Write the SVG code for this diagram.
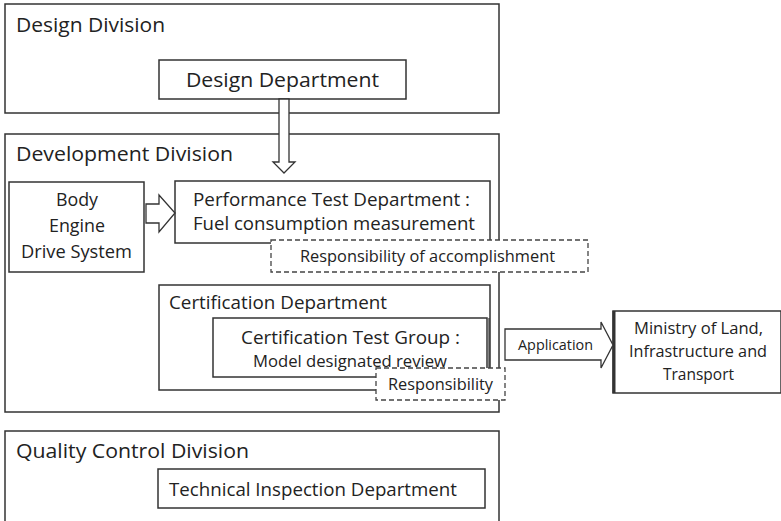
<svg xmlns="http://www.w3.org/2000/svg" width="781" height="521" viewBox="0 0 781 521">
<style>
.box{fill:#fff;stroke:#333;stroke-width:1.5}
.dash{fill:#fff;stroke:#444;stroke-width:1.3;stroke-dasharray:5,3}
.arrow{fill:#fff;stroke:#333;stroke-width:1.3}
text{font-family:"Open Sans","Noto Sans",sans-serif;fill:#222}
.div{font-size:20px}
.dep{font-size:18.5px}
.sm{font-size:16px}
.xs{font-size:14.5px}
</style>
<rect width="781" height="521" fill="#fff"/>
<g id="design-division">
<rect class="box" x="5" y="4" width="494" height="109"/>
<text class="div" x="16" y="32" textLength="149" lengthAdjust="spacingAndGlyphs">Design Division</text>
</g>
<g id="development-division">
<rect class="box" x="5" y="134" width="494" height="278"/>
<text class="div" x="16" y="161" textLength="217" lengthAdjust="spacingAndGlyphs">Development Division</text>
</g>
<g id="quality-division">
<rect class="box" x="5" y="431" width="494" height="100"/>
<text class="div" x="16" y="458" textLength="233" lengthAdjust="spacingAndGlyphs">Quality Control Division</text>
</g>
<g id="design-department">
<rect class="box" x="159" y="60" width="247" height="39"/>
<text class="div" x="186" y="87" textLength="193" lengthAdjust="spacingAndGlyphs">Design Department</text>
</g>
<g id="body-engine">
<rect class="box" x="9" y="182" width="135" height="90"/>
<text class="dep" x="56" y="206" textLength="42" lengthAdjust="spacingAndGlyphs">Body</text>
<text class="dep" x="49" y="232" textLength="56" lengthAdjust="spacingAndGlyphs">Engine</text>
<text class="dep" x="21" y="258" textLength="111" lengthAdjust="spacingAndGlyphs">Drive System</text>
</g>
<g id="performance-test">
<rect class="box" x="175" y="181" width="315" height="62"/>
<text class="dep" x="193" y="206" textLength="277" lengthAdjust="spacingAndGlyphs">Performance Test Department :</text>
<text class="dep" x="193" y="230" textLength="282" lengthAdjust="spacingAndGlyphs">Fuel consumption measurement</text>
</g>
<g id="responsibility-accomplishment">
<rect class="dash" x="271" y="240" width="317" height="32"/>
<text class="sm" x="300" y="262" textLength="255" lengthAdjust="spacingAndGlyphs">Responsibility of accomplishment</text>
</g>
<g id="certification-department">
<rect class="box" x="159" y="285" width="331" height="105"/>
<text class="dep" x="169" y="309" textLength="218" lengthAdjust="spacingAndGlyphs">Certification Department</text>
</g>
<g id="certification-test-group">
<rect class="box" x="213" y="318" width="274" height="59"/>
<line x1="489" y1="318" x2="489" y2="377" stroke="#333" stroke-width="1.2"/>
<text class="dep" x="241" y="344" textLength="219" lengthAdjust="spacingAndGlyphs">Certification Test Group :</text>
<text class="sm" x="253" y="367" textLength="194" lengthAdjust="spacingAndGlyphs">Model designated review</text>
</g>
<g id="responsibility">
<rect class="dash" x="376" y="368" width="129" height="32"/>
<text class="sm" x="388" y="390" textLength="105" lengthAdjust="spacingAndGlyphs">Responsibility</text>
</g>
<g id="ministry">
<rect class="box" x="613" y="311" width="168" height="82"/>
<line x1="614" y1="311" x2="614" y2="393" stroke="#333" stroke-width="3"/>
<text class="sm" x="634" y="334" textLength="129" lengthAdjust="spacingAndGlyphs">Ministry of Land,</text>
<text class="sm" x="629" y="357" textLength="138" lengthAdjust="spacingAndGlyphs">Infrastructure and</text>
<text class="sm" x="663" y="380" textLength="71" lengthAdjust="spacingAndGlyphs">Transport</text>
</g>
<g id="technical-inspection">
<rect class="box" x="158" y="469" width="327" height="39"/>
<text class="dep" x="169" y="496" textLength="288" lengthAdjust="spacingAndGlyphs">Technical Inspection Department</text>
</g>
<g id="connectors">
<polygon class="arrow" points="279,99 289,99 289,162 295,162 284,173 273,162 279,162"/>
<polygon class="arrow" points="146,204 159,204 159,195 175,213 159,232 159,223 146,223"/>
<polygon class="arrow" points="505,329 601,329 601,322 613,345 601,368 601,360 505,360"/>
<text class="xs" x="518" y="350" textLength="75" lengthAdjust="spacingAndGlyphs">Application</text>
</g>
</svg>
